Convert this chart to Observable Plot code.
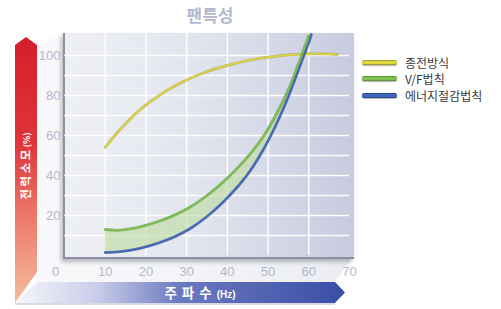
<!DOCTYPE html>
<html>
<head>
<meta charset="utf-8">
<script src="https://cdn.jsdelivr.net/npm/d3@7"></script>
<script src="https://cdn.jsdelivr.net/npm/@observablehq/plot@0.6"></script>
<style>
  body { margin:0; background:#fff; }
  #wrap { position:relative; width:501px; height:309px; overflow:hidden; font-family:"Liberation Sans", Arial, sans-serif; }
  #deco, #chart, #plotbg, #title, #legend { position:absolute; }
  #plotbg { left:63px; top:33px; width:289px; height:224px;
    background: linear-gradient(to right, #eef0f5 0%, #e2e5ee 45%, #c7cbdf 100%);
    border-left:2px solid #8e91a2; border-bottom:2px solid #8e91a2;
    box-shadow:-2px 3px 4px rgba(60,60,80,0.35); }
  #chart { left:0; top:0; }
  #title { left:160px; width:100px; top:2px; text-align:center; font-family:"Noto Sans CJK KR", sans-serif; font-weight:bold; font-size:17px; color:#b3b7ce; }
  #legend { left:362px; top:54px; font-family:"Noto Sans CJK KR", sans-serif; font-size:12px; color:#3a3a3a; }
  .li { display:flex; align-items:center; height:16.5px; }
  .sw { width:35px; height:3px; border-radius:2px; margin-right:8px; box-shadow:0 1px 1px rgba(0,0,0,0.3); }
</style>
</head>
<body>
<div id="wrap">
  <svg id="deco" width="501" height="309" style="left:0;top:0">
    <defs>
      <linearGradient id="redg" x1="0" y1="0" x2="0" y2="1">
        <stop offset="0" stop-color="#d51f2c"/>
        <stop offset="0.4" stop-color="#df3438"/>
        <stop offset="0.65" stop-color="#ea7466"/>
        <stop offset="1" stop-color="#f5bd9e"/>
      </linearGradient>
      <linearGradient id="blueg" x1="0" y1="0" x2="1" y2="0">
        <stop offset="0" stop-color="#f6f6fb"/>
        <stop offset="0.25" stop-color="#c9cde9"/>
        <stop offset="0.5" stop-color="#6b79c0"/>
        <stop offset="1" stop-color="#3a4ea6"/>
      </linearGradient>
      <linearGradient id="floorg" x1="0" y1="0" x2="1" y2="0">
        <stop offset="0" stop-color="#f7f7fa"/>
        <stop offset="1" stop-color="#e4e6ef"/>
      </linearGradient>
    </defs>
    <polygon points="37,45 63,33 63,258 352,258 335,282 37,282" fill="url(#floorg)" opacity="0.7"/>
    <polygon points="15,303 37,282 335,282 345,292.5 335,303" fill="url(#blueg)"/>
    <polygon points="15,303 335,303 335,305 15,305" fill="#d8d9e2"/>
    <polygon points="15,45 26,37 37,45 37,272 15,303" fill="url(#redg)"/>
    <text transform="translate(30,166) rotate(-90)" text-anchor="middle" fill="#fff" font-family="Noto Sans CJK KR, sans-serif" font-weight="bold" font-size="11.5" letter-spacing="2.5">전력소모<tspan font-size="8.5" letter-spacing="0">(%)</tspan></text>
    <text x="200" y="298" text-anchor="middle" fill="#fff" font-family="Noto Sans CJK KR, sans-serif" font-weight="bold" font-size="13.5" letter-spacing="5">주파수<tspan font-family="Liberation Sans, Arial, sans-serif" font-size="10" letter-spacing="0">(Hz)</tspan></text>
  </svg>
  <div id="plotbg"></div>
  <div id="chart"></div>
  <div id="title">팬특성</div>
  <div id="legend"></div>
</div>
<script>
// ---- data ----
const freq = [10, 13, 16, 19, 23, 27, 31, 35, 39, 43, 46, 49, 52, 55, 57.5, 60, 60.6];
const vfLaw = [13, 12.6, 13.3, 14.6, 17, 20.2, 24.4, 30, 36.8, 44.8, 51.8, 60, 70.5, 83, 96, 110];
const energySave = [1.5, 1.8, 2.6, 3.8, 6.2, 9.3, 13.6, 19.5, 26.8, 35.5, 43.5, 53.5, 65.5, 79.5, 93, 106.5, 110.5];
const oldFreq = [10, 13, 17, 21, 25, 29, 33, 37, 41, 45, 50, 55, 60, 64, 67];
const oldMethod = [54, 61.5, 70, 76.8, 82.3, 86.8, 90.4, 93.3, 95.6, 97.5, 99.2, 100.3, 100.8, 100.8, 100.5];
const xTicks = [10, 20, 30, 40, 50, 60, 70];
const yTicks = [20, 40, 60, 80, 100];
const gridX = [10, 20, 30, 40, 50, 60];
const gridY = [10, 20, 30, 40, 50, 60, 70, 80, 90, 100];
const seriesNames = ["종전방식", "V/F법칙", "에너지절감법칙"];
const seriesColors = ["#e0d83a", "#80c050", "#4068ba"];
const seriesDark = ["#a39d3a", "#5a9a3c", "#2b4894"];

// ---- tables ----
const oldData = oldFreq.map((f, i) => ({f, v: oldMethod[i]}));
const vfData = vfLaw.map((v, i) => ({f: freq[i], v}));
const esData = energySave.map((v, i) => ({f: freq[i], v}));
const band = vfLaw.map((v, i) => ({f: freq[i], lo: energySave[i], hi: v}));

const tickColor = "#b3b7ce";
const curve = "natural";

const lineMarks = (data, k) => [
  Plot.line(data, {x: "f", y: "v", stroke: seriesDark[k], strokeWidth: 2.8, strokeOpacity: 0.7, curve}),
  Plot.line(data, {x: "f", y: "v", stroke: seriesColors[k], strokeWidth: 1.5, curve})
];

const chart = Plot.plot({
  width: 501,
  height: 309,
  marginLeft: 64,
  marginRight: 152,
  marginTop: 33,
  marginBottom: 54,
  style: {background: "transparent", fontFamily: "Liberation Sans, Arial, sans-serif"},
  x: {domain: [0, 70]},
  y: {domain: [0, 111]},
  marks: [
    Plot.ruleX(gridX, {stroke: "#fff", strokeWidth: 1.5, strokeOpacity: 0.95}),
    Plot.ruleY(gridY, {stroke: "#fff", strokeWidth: 1.5, strokeOpacity: 0.95}),
    Plot.areaY(band, {x: "f", y1: "lo", y2: "hi", fill: "#bddc9e", fillOpacity: 0.6, curve}),
    ...lineMarks(oldData, 0),
    ...lineMarks(esData, 2),
    ...lineMarks(vfData, 1),
    Plot.axisX(xTicks, {tickSize: 0, tickPadding: 11, fontSize: 13, fill: tickColor, label: null}),
    Plot.axisX([0], {tickSize: 0, tickPadding: 11, fontSize: 13, fill: tickColor, dx: -9, label: null}),
    Plot.axisY(yTicks, {tickSize: 0, tickPadding: 4, fontSize: 13, fill: tickColor, label: null})
  ]
});
document.getElementById("chart").appendChild(chart);

// ---- legend ----
const legend = document.getElementById("legend");
seriesNames.forEach((name, k) => {
  const row = document.createElement("div");
  row.className = "li";
  const sw = document.createElement("div");
  sw.className = "sw";
  sw.style.background = seriesColors[k];
  sw.style.borderTop = "1px solid " + seriesDark[k];
  sw.style.borderBottom = "1px solid " + seriesDark[k];
  const t = document.createElement("span");
  t.textContent = name;
  row.appendChild(sw);
  row.appendChild(t);
  legend.appendChild(row);
});
</script>
</body>
</html>
